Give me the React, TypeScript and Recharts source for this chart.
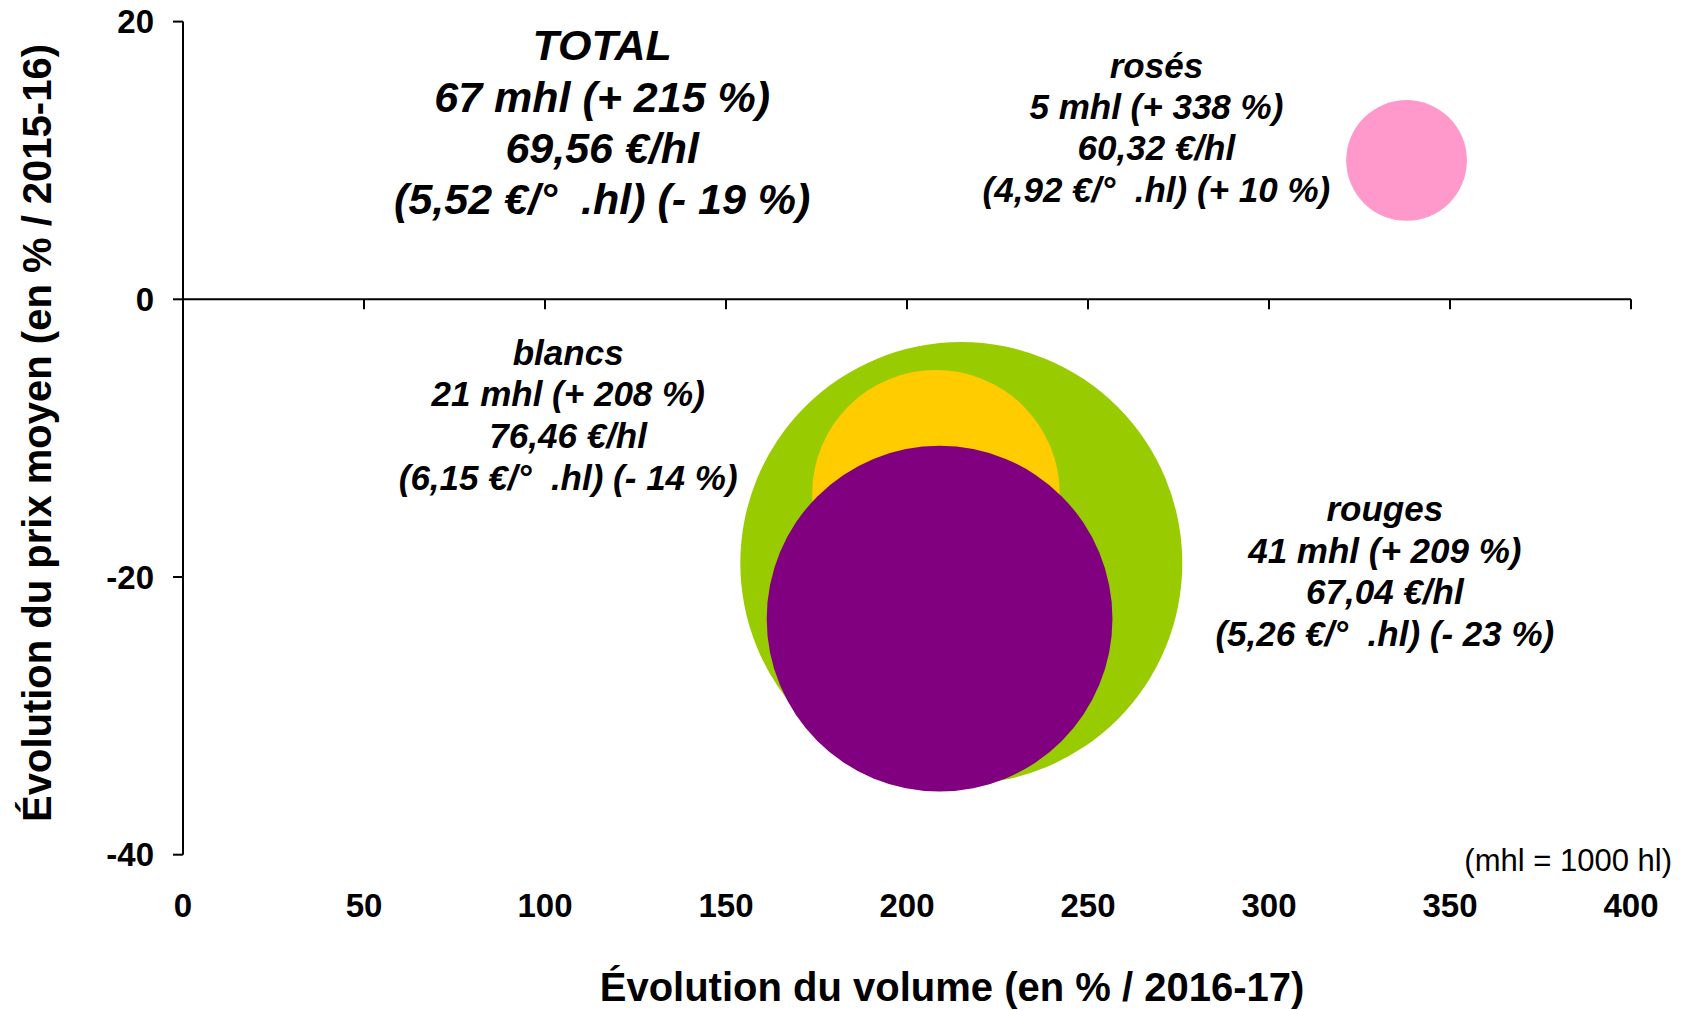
import React from 'react';
import { ScatterChart, Scatter, XAxis, YAxis, ZAxis, ReferenceLine, ReferenceDot } from 'recharts';

const FONT = '"Liberation Sans", Arial, Helvetica, sans-serif';

// data
const categories = ['TOTAL', 'blancs', 'rouges', 'rosés'];
const volumeChange = [215, 208, 209, 338]; // % vs 2016-17
const priceChange = [-19, -14, -23, 10]; // % vs 2015-16
const volumes = [67, 21, 41, 5]; // mhl
const pricePerHl = ['69,56', '76,46', '67,04', '60,32'];
const pricePerDegree = ['5,52', '6,15', '5,26', '4,92'];
const xTicks = [0, 50, 100, 150, 200, 250, 300, 350, 400];
const yTicks = [-40, -20, 0, 20];

const colors = ['#99CC00', '#FFCC00', '#800080', '#FF99CC'];

// where each text block sits (data coords of block centre) + font
const labelLayout = [
  { x: 115.8, y: 12.77, fontSize: 43, lineHeight: 51.4 },
  { x: 106.4, y: -8.32, fontSize: 35, lineHeight: 41.7 },
  { x: 332, y: -19.57, fontSize: 35, lineHeight: 41.7 },
  { x: 268.9, y: 12.38, fontSize: 35, lineHeight: 41.3 },
];

const signed = (v: number) => (v < 0 ? `- ${Math.abs(v)}` : `+ ${v}`);

const labelLines = categories.map((c, i) => [
  c,
  `${volumes[i]} mhl (${signed(volumeChange[i])} %)`,
  `${pricePerHl[i]} €/hl`,
  `(${pricePerDegree[i]} €/°  .hl) (${signed(priceChange[i])} %)`,
]);

// bubble area ~ volume (radius ≈ 27px * sqrt(mhl))
const Z_MAX = 100;
const AREA_MAX = Math.PI * 27 * 27 * Z_MAX;

// x-axis tick marks sit on the y=0 line, 10px long (~0.72 units)
const TICK_LEN = 0.72;

function BlockLabel({ cx, cy, lines, fontSize, lineHeight }: any) {
  return (
    <text
      textAnchor="middle"
      fontFamily={FONT}
      fontWeight="bold"
      fontStyle="italic"
      fontSize={fontSize}
      fill="#000"
      style={{ whiteSpace: 'pre' }}
    >
      {lines.map((l: string, i: number) => (
        <tspan key={i} x={cx} y={cy + (i - (lines.length - 1) / 2) * lineHeight + fontSize * 0.355}>
          {l}
        </tspan>
      ))}
    </text>
  );
}

export default function App() {
  const tickStyle = { fontSize: 33, fontWeight: 'bold', fill: '#000', fontFamily: FONT };

  return (
    <div style={{ position: 'absolute', left: 0, top: 0, width: 1690, height: 1010, background: '#fff' }}>
      <ScatterChart width={1690} height={1010} margin={{ top: 21.6, right: 59, bottom: 125.3, left: 103 }}>
        <XAxis
          type="number"
          dataKey="x"
          domain={[0, 400]}
          ticks={xTicks}
          interval={0}
          axisLine={false}
          tickLine={false}
          tickSize={0}
          tickMargin={39}
          height={30}
          tick={tickStyle}
        />
        <YAxis
          type="number"
          dataKey="y"
          domain={[-40, 20]}
          ticks={yTicks}
          interval={0}
          width={80}
          axisLine={{ stroke: '#000', strokeWidth: 2 }}
          tickLine={{ stroke: '#000', strokeWidth: 2 }}
          tickSize={10}
          tickMargin={19}
          tick={tickStyle}
        />
        <ZAxis type="number" dataKey="z" domain={[0, Z_MAX]} range={[0, AREA_MAX]} />

        <ReferenceLine y={0} stroke="#000" strokeWidth={2} />
        {xTicks.slice(1).map((t) => (
          <ReferenceLine
            key={t}
            segment={[
              { x: t, y: 0 },
              { x: t, y: -TICK_LEN },
            ]}
            stroke="#000"
            strokeWidth={2}
          />
        ))}

        {categories.map((c, i) => (
          <Scatter
            key={c}
            name={c}
            data={[{ x: volumeChange[i], y: priceChange[i], z: volumes[i] }]}
            fill={colors[i]}
            isAnimationActive={false}
          />
        ))}

        {categories.map((c, i) => (
          <ReferenceDot
            key={'lbl-' + c}
            x={labelLayout[i].x}
            y={labelLayout[i].y}
            r={0}
            shape={(p: any) => (
              <BlockLabel
                cx={p.cx}
                cy={p.cy}
                lines={labelLines[i]}
                fontSize={labelLayout[i].fontSize}
                lineHeight={labelLayout[i].lineHeight}
              />
            )}
          />
        ))}
      </ScatterChart>

      <svg
        width={1690}
        height={1010}
        style={{ position: 'absolute', left: 0, top: 0, pointerEvents: 'none' }}
      >
        <text x={952} y={1001} textAnchor="middle" fontFamily={FONT} fontWeight="bold" fontSize={40} fill="#000">
          Évolution du volume (en % / 2016-17)
        </text>
        <text
          transform="translate(51, 433) rotate(-90)"
          textAnchor="middle"
          fontFamily={FONT}
          fontWeight="bold"
          fontSize={40}
          fill="#000"
        >
          Évolution du prix moyen (en % / 2015-16)
        </text>
        <text x={1672} y={871} textAnchor="end" fontFamily={FONT} fontSize={31} fill="#000">
          (mhl = 1000 hl)
        </text>
      </svg>
    </div>
  );
}
